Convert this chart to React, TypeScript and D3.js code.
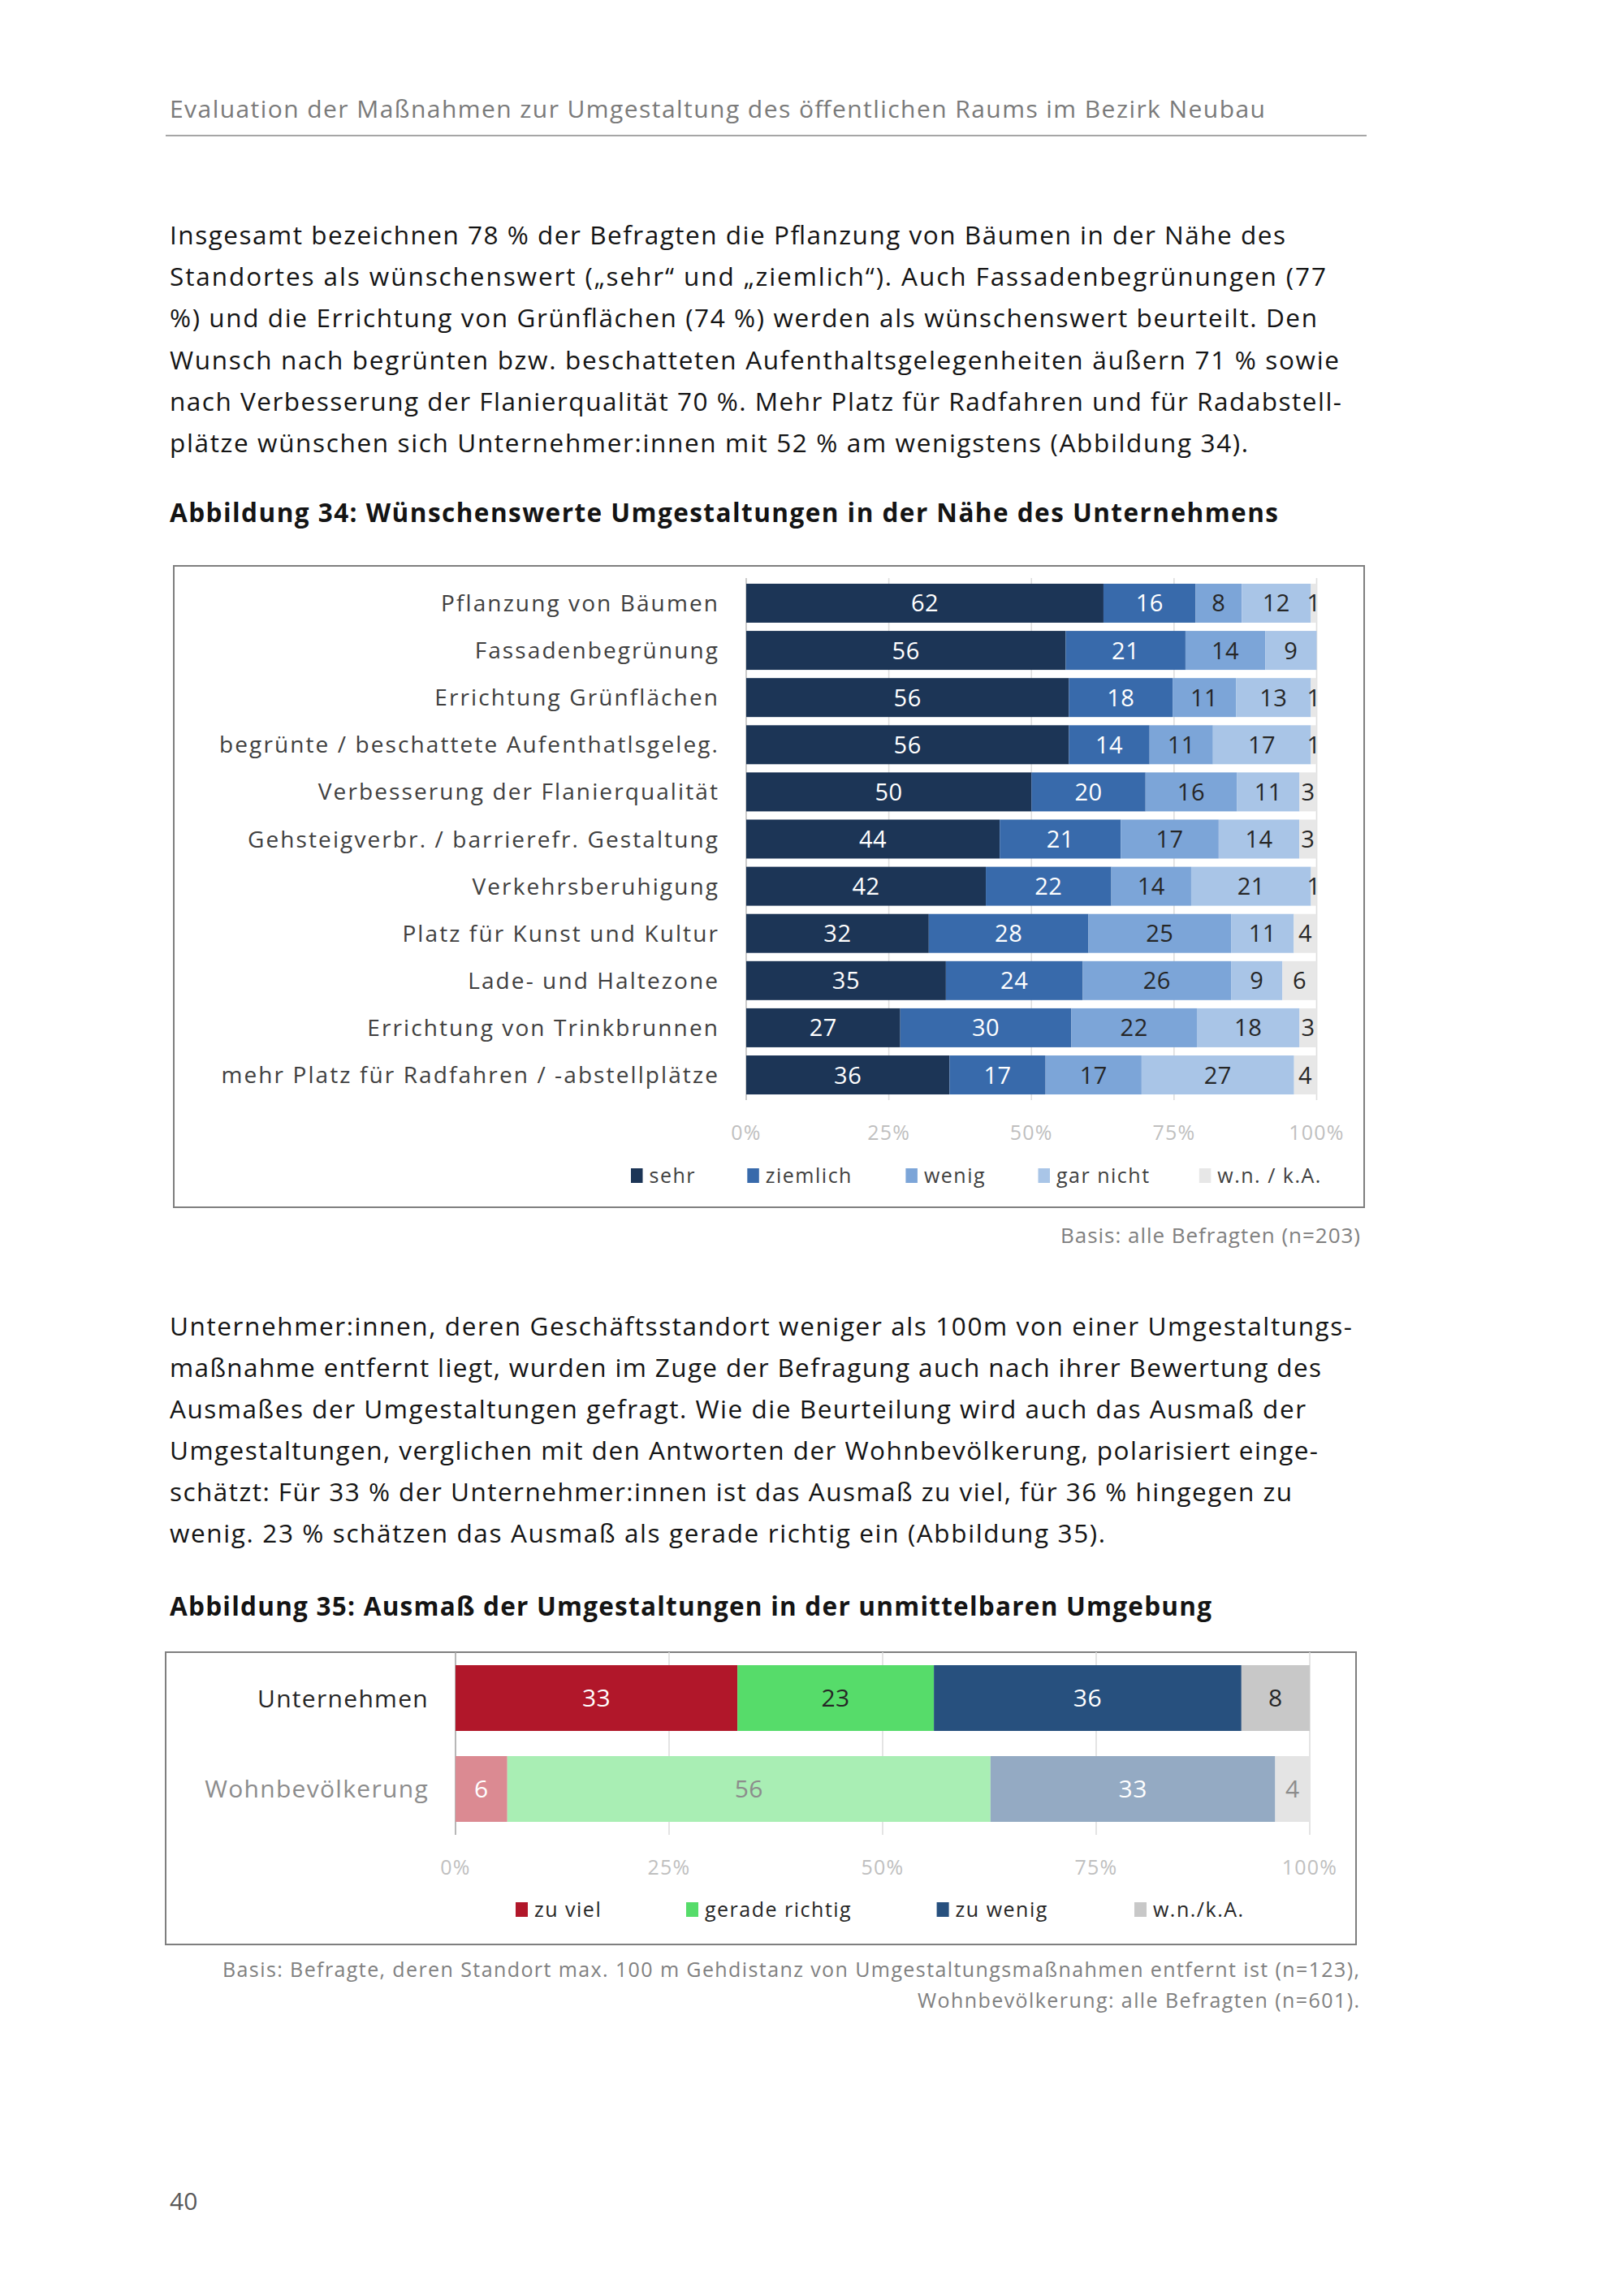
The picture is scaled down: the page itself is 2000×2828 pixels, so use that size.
import React from 'react';
import * as d3 from 'd3';

// ---------- Data: Abbildung 34 ----------
const categories34 = [
  'Pflanzung von Bäumen',
  'Fassadenbegrünung',
  'Errichtung Grünflächen',
  'begrünte / beschattete Aufenthatlsgeleg.',
  'Verbesserung der Flanierqualität',
  'Gehsteigverbr. / barrierefr. Gestaltung',
  'Verkehrsberuhigung',
  'Platz für Kunst und Kultur',
  'Lade- und Haltezone',
  'Errichtung von Trinkbrunnen',
  'mehr Platz für Radfahren / -abstellplätze',
];
const series34 = ['sehr', 'ziemlich', 'wenig', 'gar nicht', 'w.n. / k.A.'];
const sehr = [62, 56, 56, 56, 50, 44, 42, 32, 35, 27, 36];
const ziemlich = [16, 21, 18, 14, 20, 21, 22, 28, 24, 30, 17];
const wenig = [8, 14, 11, 11, 16, 17, 14, 25, 26, 22, 17];
const garNicht = [12, 9, 13, 17, 11, 14, 21, 11, 9, 18, 27];
const wnka34 = [1, 0, 1, 1, 3, 3, 1, 4, 6, 3, 4];
const colors34 = ['#1c3556', '#386aab', '#7ca5d8', '#a9c5e7', '#e7e7e7'];
const labelColors34 = ['#ffffff', '#ffffff', '#262626', '#262626', '#262626'];

// ---------- Data: Abbildung 35 ----------
const categories35 = ['Unternehmen', 'Wohnbevölkerung'];
const series35 = ['zu viel', 'gerade richtig', 'zu wenig', 'w.n./k.A.'];
const zuViel = [33, 6];
const geradeRichtig = [23, 56];
const zuWenig = [36, 33];
const wnka35 = [8, 4];
const colors35 = [
  ['#b1172a', '#56dc6a', '#27507e', '#c8c8c8'],
  ['#db8a92', '#a9eeb4', '#94aac3', '#e4e4e4'],
];
const labelColors35 = [
  ['#ffffff', '#262626', '#ffffff', '#262626'],
  ['#ffffff', '#8c8c8c', '#ffffff', '#8c8c8c'],
];
const categoryColors35 = ['#262626', '#8c8c8c'];

const tickValues = [0, 25, 50, 75, 100];
const tickLabels = ['0%', '25%', '50%', '75%', '100%'];

// ---------- Texts ----------
const headerText = 'Evaluation der Maßnahmen zur Umgestaltung des öffentlichen Raums im Bezirk Neubau';
const para1 = [
  'Insgesamt bezeichnen 78 % der Befragten die Pflanzung von Bäumen in der Nähe des',
  'Standortes als wünschenswert („sehr“ und „ziemlich“). Auch Fassadenbegrünungen (77',
  '%) und die Errichtung von Grünflächen (74 %) werden als wünschenswert beurteilt. Den',
  'Wunsch nach begrünten bzw. beschatteten Aufenthaltsgelegenheiten äußern 71 % sowie',
  'nach Verbesserung der Flanierqualität 70 %. Mehr Platz für Radfahren und für Radabstell-',
  'plätze wünschen sich Unternehmer:innen mit 52 % am wenigstens (Abbildung 34).',
];
const para1Widths = [1374, 1424, 1413, 1440, 1443, 1328];
const title34 = 'Abbildung 34: Wünschenswerte Umgestaltungen in der Nähe des Unternehmens';
const basis34 = 'Basis: alle Befragten (n=203)';
const para2 = [
  'Unternehmer:innen, deren Geschäftsstandort weniger als 100m von einer Umgestaltungs-',
  'maßnahme entfernt liegt, wurden im Zuge der Befragung auch nach ihrer Bewertung des',
  'Ausmaßes der Umgestaltungen gefragt. Wie die Beurteilung wird auch das Ausmaß der',
  'Umgestaltungen, verglichen mit den Antworten der Wohnbevölkerung, polarisiert einge-',
  'schätzt: Für 33 % der Unternehmer:innen ist das Ausmaß zu viel, für 36 % hingegen zu',
  'wenig. 23 % schätzen das Ausmaß als gerade richtig ein (Abbildung 35).',
];
const para2Widths = [1456, 1418, 1399, 1414, 1382, 1152];
const title35 = 'Abbildung 35: Ausmaß der Umgestaltungen in der unmittelbaren Umgebung';
const basis35 = [
  'Basis: Befragte, deren Standort max. 100 m Gehdistanz von Umgestaltungsmaßnahmen entfernt ist (n=123),',
  'Wohnbevölkerung: alle Befragten (n=601).',
];
const basis35Widths = [1400, 544];
const pageNumber = '40';

const FONT = "'Open Sans', 'Noto Sans', sans-serif";

// layout
const legend34X = [777, 920.3, 1115.4, 1278.5, 1476.8];
const legend35X = [635, 845, 1153.6, 1397];

function Chart34() {
  const rows = categories34.map((c, i) => ({
    cat: c,
    sehr: sehr[i],
    ziemlich: ziemlich[i],
    wenig: wenig[i],
    'gar nicht': garNicht[i],
    'w.n. / k.A.': wnka34[i],
  }));
  const stack = d3.stack<any>().keys(series34).offset(d3.stackOffsetExpand);
  const layers = stack(rows);
  const x = d3.scaleLinear().domain([0, 1]).range([919, 1621.5]);
  const xt = d3.scaleLinear().domain([0, 100]).range([919, 1621.5]);
  const y = d3.scaleBand().domain(categories34).range([712, 1355]).paddingInner(0.174).paddingOuter(0.12);
  const bw = y.bandwidth();
  return (
    <g>
      <rect x={214} y={697} width={1466} height={790} fill="#fff" stroke="#7f7f7f" strokeWidth={2} />
      {tickValues.map((t) => (
        <line key={t} x1={xt(t)} x2={xt(t)} y1={712} y2={1355} stroke={t === 0 ? '#bfbfbf' : '#dedede'} strokeWidth={1.6} />
      ))}
      {layers.map((layer, li) => (
        <g key={layer.key}>
          {layer.map((d, i) => {
            const x0 = x(d[0]);
            const x1 = x(d[1]);
            return (
              <rect key={i} x={x0} y={y(categories34[i])} width={Math.max(0, x1 - x0)} height={bw} fill={colors34[li]} />
            );
          })}
        </g>
      ))}
      {layers.map((layer, li) => (
        <g key={layer.key + 'l'}>
          {layer.map((d, i) => {
            const v = (rows[i] as any)[layer.key];
            if (!v) return null;
            const cx = (x(d[0]) + x(d[1])) / 2;
            return (
              <text key={i} x={cx} y={(y(categories34[i]) as number) + bw / 2 + 10.5} textAnchor="middle"
                fontSize={29} letterSpacing={0.5} fill={labelColors34[li]} fontFamily={FONT}>
                {v}
              </text>
            );
          })}
        </g>
      ))}
      {categories34.map((c) => (
        <text key={c} x={886} y={(y(c) as number) + bw / 2 + 10} textAnchor="end" fontSize={28}
          letterSpacing={2.1} fill="#404040" fontFamily={FONT}>
          {c}
        </text>
      ))}
      {tickValues.map((t, i) => (
        <text key={t} x={xt(t)} y={1403.5} textAnchor="middle" fontSize={25} letterSpacing={1.2} fill="#bfbfbf" fontFamily={FONT}>
          {tickLabels[i]}
        </text>
      ))}
      {series34.map((s, i) => (
        <g key={s}>
          <rect x={legend34X[i]} y={1439} width={14.5} height={18} fill={colors34[i]} />
          <text x={legend34X[i] + 22.5} y={1457} fontSize={25} letterSpacing={1.5} fill="#404040" fontFamily={FONT}>
            {s}
          </text>
        </g>
      ))}
    </g>
  );
}

function Chart35() {
  const rows = categories35.map((c, i) => ({
    cat: c,
    'zu viel': zuViel[i],
    'gerade richtig': geradeRichtig[i],
    'zu wenig': zuWenig[i],
    'w.n./k.A.': wnka35[i],
  }));
  const stack = d3.stack<any>().keys(series35).offset(d3.stackOffsetExpand);
  const layers = stack(rows);
  const x = d3.scaleLinear().domain([0, 1]).range([561, 1613]);
  const xt = d3.scaleLinear().domain([0, 100]).range([561, 1613]);
  const y = d3.scaleBand().domain(categories35).range([2035, 2260]).paddingInner(0.277).paddingOuter(0.143);
  const bw = y.bandwidth();
  return (
    <g>
      <rect x={204} y={2035} width={1466} height={360} fill="#fff" stroke="#7f7f7f" strokeWidth={2} />
      {tickValues.map((t) => (
        <line key={t} x1={xt(t)} x2={xt(t)} y1={2035} y2={2260} stroke={t === 0 ? '#a6a6a6' : '#dedede'} strokeWidth={1.6} />
      ))}
      {layers.map((layer, li) => (
        <g key={layer.key}>
          {layer.map((d, i) => {
            const x0 = x(d[0]);
            const x1 = x(d[1]);
            return (
              <rect key={i} x={x0} y={y(categories35[i])} width={Math.max(0, x1 - x0)} height={bw} fill={colors35[i][li]} />
            );
          })}
        </g>
      ))}
      {layers.map((layer, li) => (
        <g key={layer.key + 'l'}>
          {layer.map((d, i) => {
            const v = (rows[i] as any)[layer.key];
            if (!v) return null;
            const cx = (x(d[0]) + x(d[1])) / 2;
            return (
              <text key={i} x={cx} y={(y(categories35[i]) as number) + bw / 2 + 10.5} textAnchor="middle"
                fontSize={30} letterSpacing={0.5} fill={labelColors35[i][li]} fontFamily={FONT}>
                {v}
              </text>
            );
          })}
        </g>
      ))}
      {categories35.map((c, i) => (
        <text key={c} x={528} y={(y(c) as number) + bw / 2 + 11} textAnchor="end" fontSize={30}
          letterSpacing={1.3} fill={categoryColors35[i]} fontFamily={FONT}>
          {c}
        </text>
      ))}
      {tickValues.map((t, i) => (
        <text key={t} x={xt(t)} y={2308.5} textAnchor="middle" fontSize={25} letterSpacing={1.2} fill="#bfbfbf" fontFamily={FONT}>
          {tickLabels[i]}
        </text>
      ))}
      {series35.map((s, i) => (
        <g key={s}>
          <rect x={legend35X[i]} y={2343} width={15} height={18} fill={colors35[0][i]} />
          <text x={legend35X[i] + 23} y={2361} fontSize={25} letterSpacing={1.5} fill="#262626" fontFamily={FONT}>
            {s}
          </text>
        </g>
      ))}
    </g>
  );
}

export default function App() {
  return (
    <svg width={2000} height={2828} viewBox="0 0 2000 2828"
      style={{ position: 'absolute', left: 0, top: 0, display: 'block', background: '#fff' }}
      fontFamily={FONT}>
      <rect x={0} y={0} width={2000} height={2828} fill="#fff" />
      <text x={209} y={145} fontSize={30} fill="#7a7a7a" textLength={1349} lengthAdjust="spacing">{headerText}</text>
      <line x1={204} x2={1683} y1={167} y2={167} stroke="#a6a6a6" strokeWidth={2} />
      {para1.map((l, i) => (
        <text key={i} x={209} y={301 + i * 51.2} fontSize={31.5} fill="#141414" textLength={para1Widths[i]} lengthAdjust="spacing">{l}</text>
      ))}
      <text x={209} y={643} fontSize={31.5} fontWeight="bold" fill="#141414" textLength={1365} lengthAdjust="spacing">{title34}</text>
      <Chart34 />
      <text x={1675 - 369} y={1531} fontSize={26} fill="#808080" textLength={369} lengthAdjust="spacing">{basis34}</text>
      {para2.map((l, i) => (
        <text key={i} x={209} y={1645 + i * 51} fontSize={31.5} fill="#141414" textLength={para2Widths[i]} lengthAdjust="spacing">{l}</text>
      ))}
      <text x={209} y={1990} fontSize={31.5} fontWeight="bold" fill="#141414" textLength={1283} lengthAdjust="spacing">{title35}</text>
      <Chart35 />
      {basis35.map((l, i) => (
        <text key={i} x={1674 - basis35Widths[i]} y={2435 + i * 38} fontSize={25} fill="#808080" textLength={basis35Widths[i]} lengthAdjust="spacing">{l}</text>
      ))}
      <text x={209} y={2722} fontSize={30} fill="#595959">{pageNumber}</text>
    </svg>
  );
}
